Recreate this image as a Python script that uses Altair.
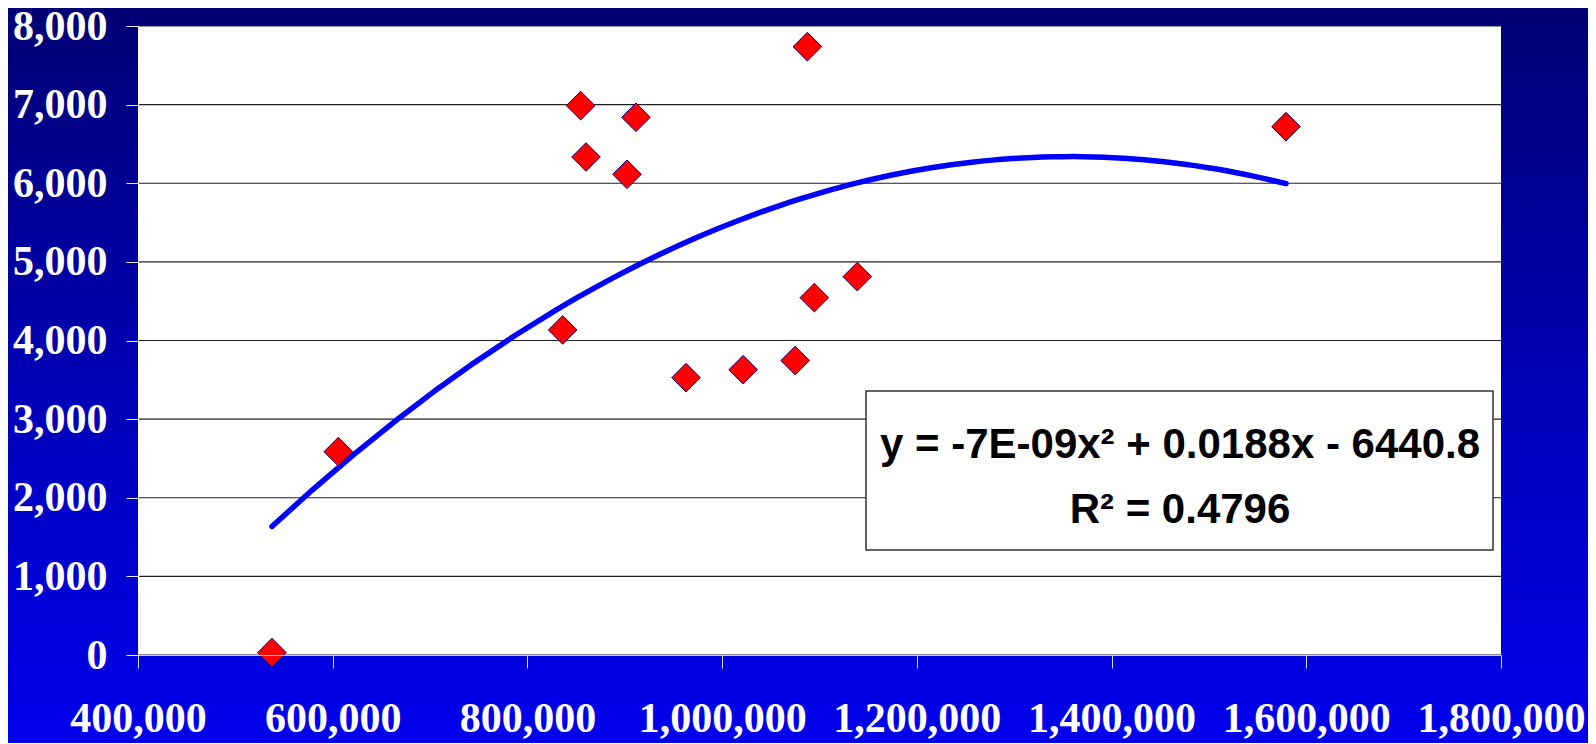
import altair as alt
import pandas as pd

# ---- data ----
x_vals = [537600, 605700, 836200, 854700, 860200, 902300, 911500, 962900,
          1021600, 1075000, 1087500, 1094700, 1138800, 1579200]
y_vals = [30, 2586, 4134, 6987, 6334, 6114, 6839, 3527,
          3628, 3745, 7737, 4545, 4812, 6720]
x_ticks = [400000, 600000, 800000, 1000000, 1200000, 1400000, 1600000, 1800000]
y_ticks = [0, 1000, 2000, 3000, 4000, 5000, 6000, 7000, 8000]
eq_line1 = "y = -7E-09x\u00b2 + 0.0188x - 6440.8"
eq_line2 = "R\u00b2 = 0.4796"

W, H = 1363, 629
PAD = {"left": 130, "top": 18, "right": 87, "bottom": 88}

pts = pd.DataFrame({"x": x_vals, "y": y_vals})
grid_df = pd.DataFrame({"y": y_ticks})
one = alt.Data(values=[{}])

xscale = alt.Scale(domain=[x_ticks[0], x_ticks[-1]], nice=False, zero=False)
yscale = alt.Scale(domain=[y_ticks[0], y_ticks[-1]], nice=False, zero=True)

label_font = "Liberation Serif"

xaxis = alt.Axis(values=x_ticks, format=",.0f", title=None, grid=False,
                 labelFont=label_font, labelFontWeight="bold", labelFontSize=42,
                 labelColor="white", labelFlush=False, labelOverlap=False,
                 labelBound=False, labelPadding=30, tickSize=13,
                 tickColor="#D8D8F0", tickWidth=1, domainColor="#C8C8E0",
                 domainWidth=1, zindex=1)
yaxis = alt.Axis(values=y_ticks, format=",.0f", title=None, grid=False,
                 labelFont=label_font, labelFontWeight="bold", labelFontSize=42,
                 labelColor="white", labelOverlap=False, labelBound=False,
                 labelPadding=19, tickSize=12, tickColor="#E8E8F8", tickWidth=1,
                 domainColor="#FFFFFF", domainWidth=1, zindex=1)

# gradient background (decorative)
bg = alt.Chart(one).mark_rect(
    fill=alt.LinearGradient(
        gradient="linear", x1=0, x2=0, y1=0, y2=1,
        stops=[alt.GradientStop(offset=0, color="#000074"),
               alt.GradientStop(offset=0.5, color="#0000B4"),
               alt.GradientStop(offset=1, color="#0000EC")]),
    clip=False,
).encode(x=alt.value(-PAD["left"]), x2=alt.value(W + PAD["right"]),
         y=alt.value(-PAD["top"]), y2=alt.value(H + PAD["bottom"]))

plot_bg = alt.Chart(one).mark_rect(fill="white").encode(
    x=alt.value(0), x2=alt.value(W), y=alt.value(0), y2=alt.value(H))

grid = alt.Chart(grid_df).mark_rule(color="#222222", strokeWidth=1.2).encode(
    y=alt.Y("y:Q", scale=yscale, axis=yaxis),
    x=alt.value(0), x2=alt.value(W))

trend = alt.Chart(pts).transform_regression(
    "x", "y", method="poly", order=2
).mark_line(color="#0000FF", strokeWidth=5.5, strokeCap="round",
            strokeJoin="round").encode(
    x=alt.X("x:Q", scale=xscale, axis=xaxis),
    y=alt.Y("y:Q", scale=yscale, axis=yaxis))

points = alt.Chart(pts).mark_point(
    shape="diamond", filled=True, fill="#FF0000", stroke="#000080",
    strokeWidth=1, size=820, opacity=1, fillOpacity=1, strokeOpacity=1
).encode(
    x=alt.X("x:Q", scale=xscale, axis=xaxis),
    y=alt.Y("y:Q", scale=yscale, axis=yaxis))

box = alt.Chart(one).mark_rect(fill="white", stroke="#333333", strokeWidth=1.5).encode(
    x=alt.value(728), x2=alt.value(1355), y=alt.value(365), y2=alt.value(524))

txt1 = alt.Chart(one).mark_text(
    text=eq_line1, font="Liberation Sans", fontWeight="bold", fontSize=42,
    color="black", align="center", baseline="alphabetic"
).encode(x=alt.value(1042), y=alt.value(432))

txt2 = alt.Chart(one).mark_text(
    text=eq_line2, font="Liberation Sans", fontWeight="bold", fontSize=42,
    color="black", align="center", baseline="alphabetic"
).encode(x=alt.value(1042), y=alt.value(497))

chart = alt.layer(bg, plot_bg, grid, trend, points, box, txt1, txt2).properties(
    width=W, height=H, padding=PAD,
    autosize=alt.AutoSizeParams(type="none"),
).configure_view(stroke=None).configure(background="#0000B0")

chart.save("out.html", embed_options={"renderer": "svg", "actions": False})
